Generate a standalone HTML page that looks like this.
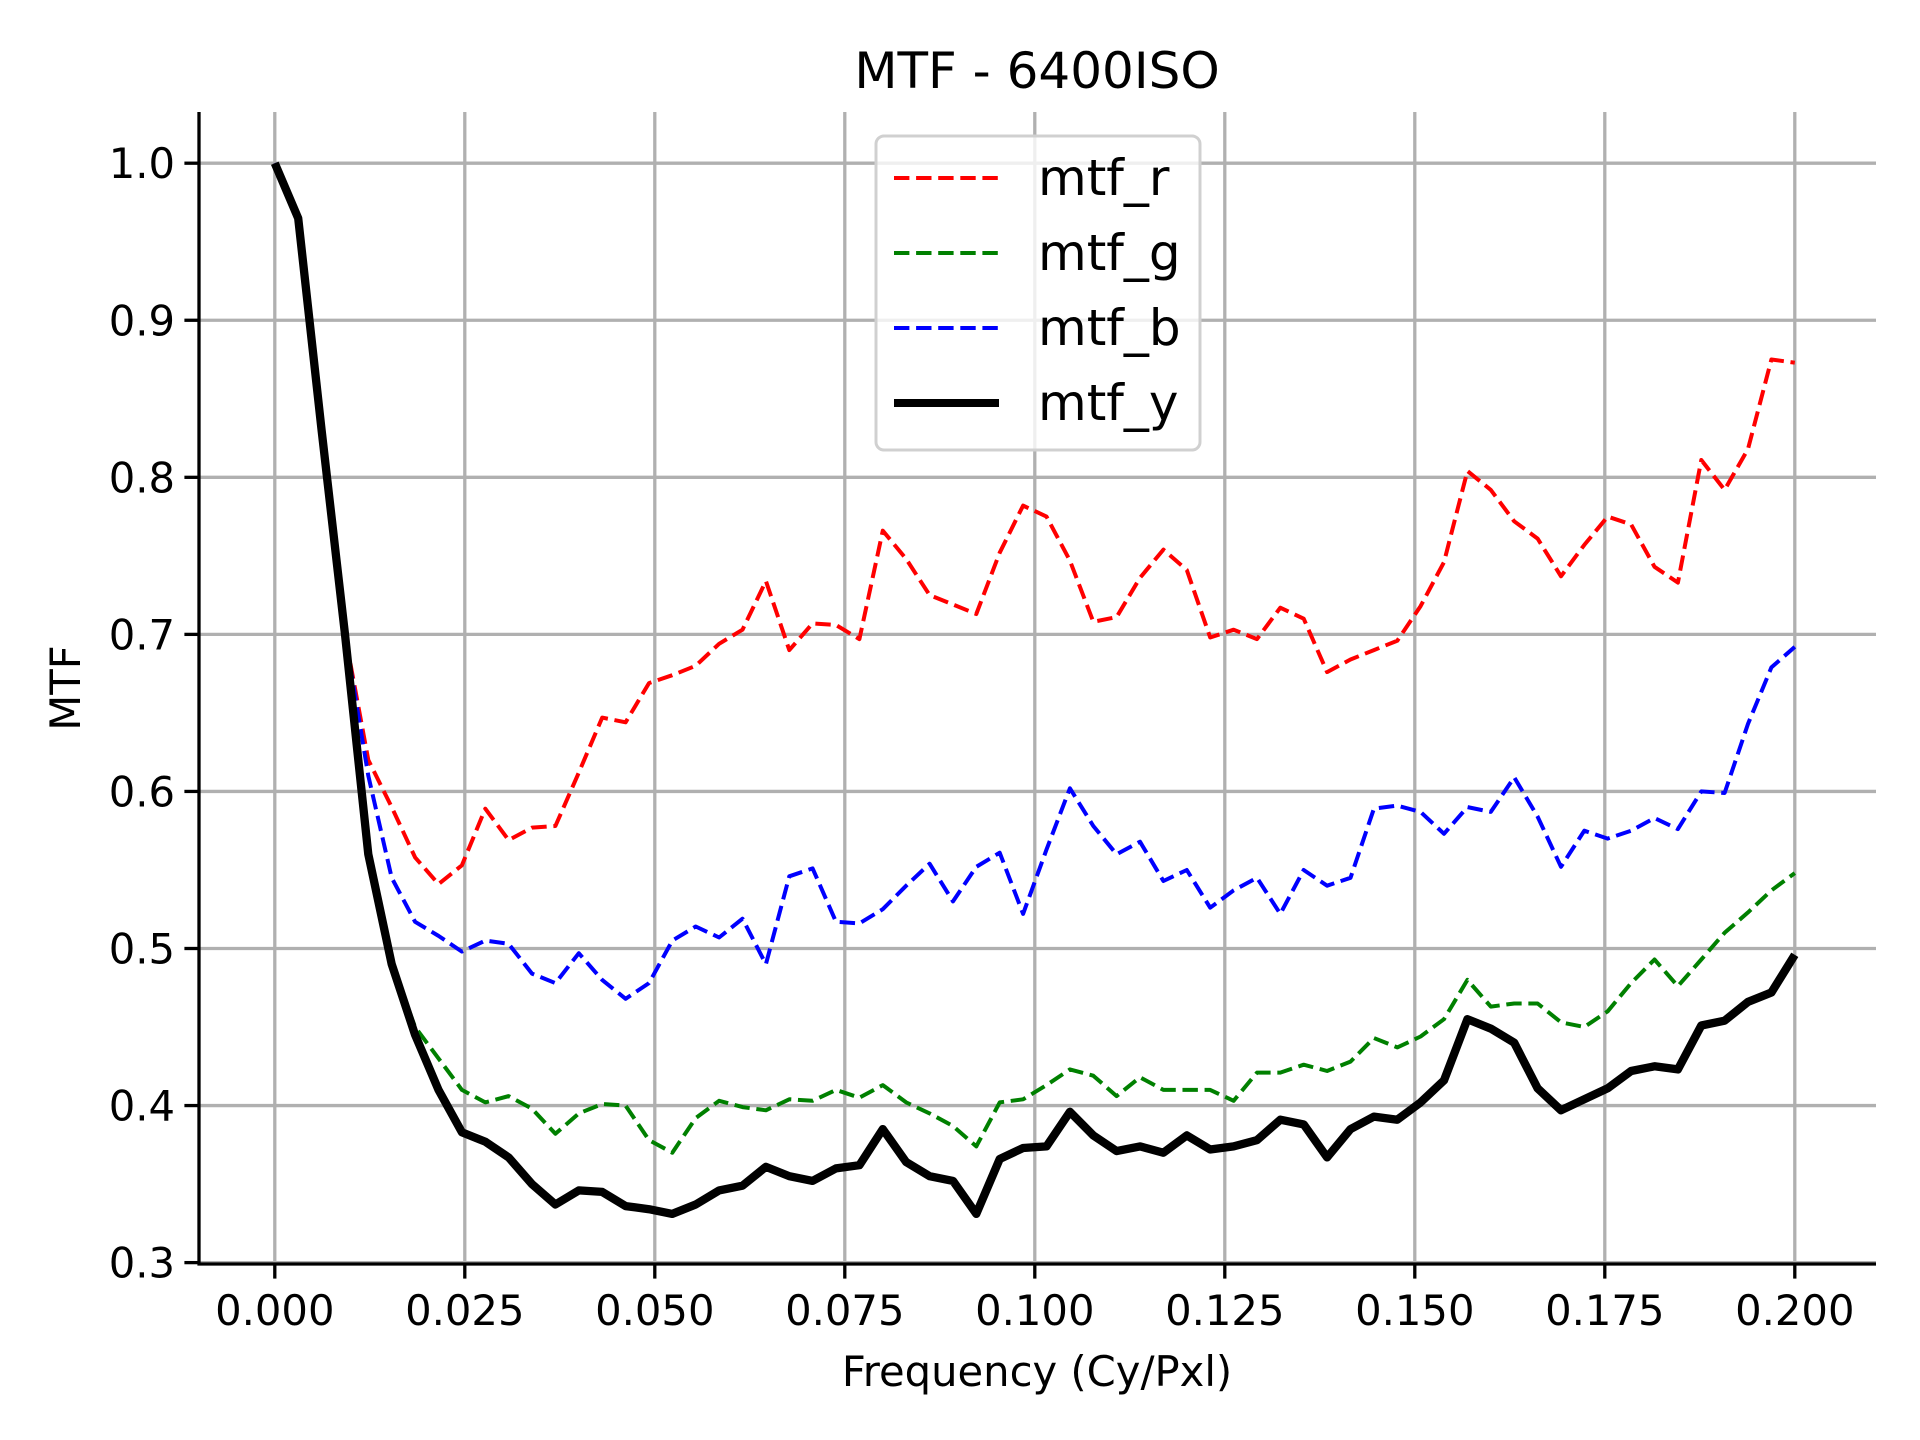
<!DOCTYPE html>
<html><head><meta charset="utf-8"><style>
html,body{margin:0;padding:0;background:#fff;}
svg{display:block;font-family:"DejaVu Sans","Liberation Sans",sans-serif;}
</style></head><body>
<svg id="chart" width="1920" height="1440" viewBox="0 0 1920 1440" xmlns="http://www.w3.org/2000/svg">
<rect width="1920" height="1440" fill="#fff"/>
<text x="1037" y="88" font-size="50" text-anchor="middle">MTF - 6400ISO</text>
<g id="grid"></g>
<g id="series"></g>
<g id="axes"></g>
<text x="1037" y="1386" font-size="41.7" text-anchor="middle">Frequency (Cy/Pxl)</text>
<text x="0" y="0" font-size="41.7" text-anchor="middle" transform="translate(80,688) rotate(-90)">MTF</text>
<g id="legend">
<rect x="876" y="136" width="324" height="314" rx="8" fill="#fff" fill-opacity="0.8" stroke="#d0d0d0" stroke-width="3"/>
<line x1="894" y1="178" x2="999" y2="178" stroke="#ff0000" stroke-width="4" stroke-dasharray="15.4,6.7"/>
<text x="1038" y="195" font-size="50">mtf_r</text>
<line x1="894" y1="253" x2="999" y2="253" stroke="#008000" stroke-width="4" stroke-dasharray="15.4,6.7"/>
<text x="1038" y="270" font-size="50">mtf_g</text>
<line x1="894" y1="328" x2="999" y2="328" stroke="#0000ff" stroke-width="4" stroke-dasharray="15.4,6.7"/>
<text x="1038" y="345" font-size="50">mtf_b</text>
<line x1="894" y1="403" x2="999" y2="403" stroke="#000" stroke-width="8"/>
<text x="1038" y="420" font-size="50">mtf_y</text>
</g>
</svg>
<script>
const step = 1/325;
const mtfR = [1.0,0.965,0.83,0.70,0.62,0.59,0.558,0.541,0.553,0.589,0.569,0.577,0.578,0.612,0.647,0.644,0.669,0.674,0.680,0.694,0.703,0.734,0.690,0.707,0.706,0.697,0.766,0.748,0.725,0.719,0.713,0.752,0.782,0.775,0.747,0.708,0.711,0.736,0.754,0.741,0.698,0.703,0.697,0.717,0.710,0.676,0.684,0.690,0.696,0.718,0.746,0.804,0.792,0.772,0.761,0.737,0.757,0.775,0.770,0.743,0.733,0.811,0.792,0.818,0.875,0.873];
const mtfG = [1.0,0.965,0.83,0.70,0.56,0.49,0.45,0.43,0.410,0.402,0.406,0.398,0.382,0.395,0.401,0.400,0.378,0.370,0.392,0.403,0.399,0.397,0.404,0.403,0.410,0.405,0.413,0.402,0.395,0.387,0.374,0.402,0.404,0.413,0.423,0.419,0.406,0.418,0.410,0.410,0.410,0.403,0.421,0.421,0.426,0.422,0.428,0.443,0.437,0.444,0.455,0.480,0.463,0.465,0.465,0.453,0.450,0.460,0.478,0.493,0.476,0.493,0.510,0.523,0.537,0.548];
const mtfB = [1.0,0.965,0.83,0.70,0.61,0.545,0.517,0.508,0.498,0.505,0.503,0.484,0.478,0.497,0.480,0.468,0.478,0.505,0.514,0.507,0.519,0.490,0.546,0.551,0.517,0.516,0.525,0.540,0.554,0.530,0.552,0.561,0.522,0.563,0.602,0.578,0.560,0.568,0.543,0.550,0.526,0.537,0.545,0.522,0.550,0.540,0.545,0.589,0.591,0.587,0.573,0.590,0.587,0.609,0.584,0.552,0.575,0.570,0.575,0.583,0.576,0.600,0.599,0.643,0.679,0.692];
const mtfY = [1.0,0.965,0.83,0.70,0.56,0.49,0.445,0.41,0.383,0.377,0.367,0.35,0.337,0.346,0.345,0.336,0.334,0.331,0.337,0.346,0.349,0.361,0.355,0.352,0.360,0.362,0.385,0.364,0.355,0.352,0.331,0.366,0.373,0.374,0.396,0.381,0.371,0.374,0.370,0.381,0.372,0.374,0.378,0.391,0.388,0.367,0.385,0.393,0.391,0.402,0.416,0.455,0.449,0.440,0.411,0.397,0.404,0.411,0.422,0.425,0.423,0.451,0.454,0.466,0.472,0.496];
const xTicks = [0,0.025,0.05,0.075,0.1,0.125,0.15,0.175,0.2];
const xTickLabels = ["0.000","0.025","0.050","0.075","0.100","0.125","0.150","0.175","0.200"];
const yTicks = [0.3,0.4,0.5,0.6,0.7,0.8,0.9,1.0];
const yTickLabels = ["0.3","0.4","0.5","0.6","0.7","0.8","0.9","1.0"];

const NS = "http://www.w3.org/2000/svg";
const L = 199, R = 1876, T = 112, B = 1264;
function xs(v){ return 274.8 + v*7600; }
function ys(v){ return 163.2 + (1 - v)*1570.6; }
function mk(tag, attrs, parent){
  const e = document.createElementNS(NS, tag);
  for (const k in attrs) e.setAttribute(k, attrs[k]);
  parent.appendChild(e);
  return e;
}
const grid = document.getElementById('grid');
const axes = document.getElementById('axes');
const series = document.getElementById('series');

xTicks.forEach((t, i) => {
  const x = xs(t);
  const g = mk('line', {x1:x, y1:T, x2:x, y2:B, stroke:'#b0b0b0', 'stroke-width':3.3}, grid);
  
  
  const tk = mk('line', {x1:x, y1:B, x2:x, y2:B+14.6, stroke:'#000', 'stroke-width':3.3}, axes);
  
  
  const tx = mk('text', {x:x, y:B+61, 'font-size':41.7, 'text-anchor':'middle'}, axes);
  tx.textContent = xTickLabels[i];
  
  
});
yTicks.forEach((t, i) => {
  const y = ys(t);
  const g = mk('line', {x1:L, y1:y, x2:R, y2:y, stroke:'#b0b0b0', 'stroke-width':3.3}, grid);
  
  
  const tk = mk('line', {x1:L-14.6, y1:y, x2:L, y2:y, stroke:'#000', 'stroke-width':3.3}, axes);
  
  
  const tx = mk('text', {x:L-24, y:y+15, 'font-size':41.7, 'text-anchor':'end'}, axes);
  tx.textContent = yTickLabels[i];
  
  
});
const sl = mk('line', {x1:L, y1:T, x2:L, y2:B, stroke:'#000', 'stroke-width':3.3}, axes);


const sb = mk('line', {x1:L-1.6, y1:B, x2:R, y2:B, stroke:'#000', 'stroke-width':3.3}, axes);



function pts(arr){ return arr.map((v,i) => xs(i*step).toFixed(1) + ',' + ys(v).toFixed(1)).join(' '); }
const lr = mk('polyline', {points:pts(mtfR), fill:'none', stroke:'#ff0000', 'stroke-width':4, 'stroke-dasharray':'15.4,6.7', 'stroke-linejoin':'round'}, series);


const lg = mk('polyline', {points:pts(mtfG), fill:'none', stroke:'#008000', 'stroke-width':4, 'stroke-dasharray':'15.4,6.7', 'stroke-linejoin':'round'}, series);


const lb = mk('polyline', {points:pts(mtfB), fill:'none', stroke:'#0000ff', 'stroke-width':4, 'stroke-dasharray':'15.4,6.7', 'stroke-linejoin':'round'}, series);


const ly = mk('polyline', {points:pts(mtfY), fill:'none', stroke:'#000', 'stroke-width':8.3, 'stroke-linejoin':'round'}, series);


</script>
</body></html>
